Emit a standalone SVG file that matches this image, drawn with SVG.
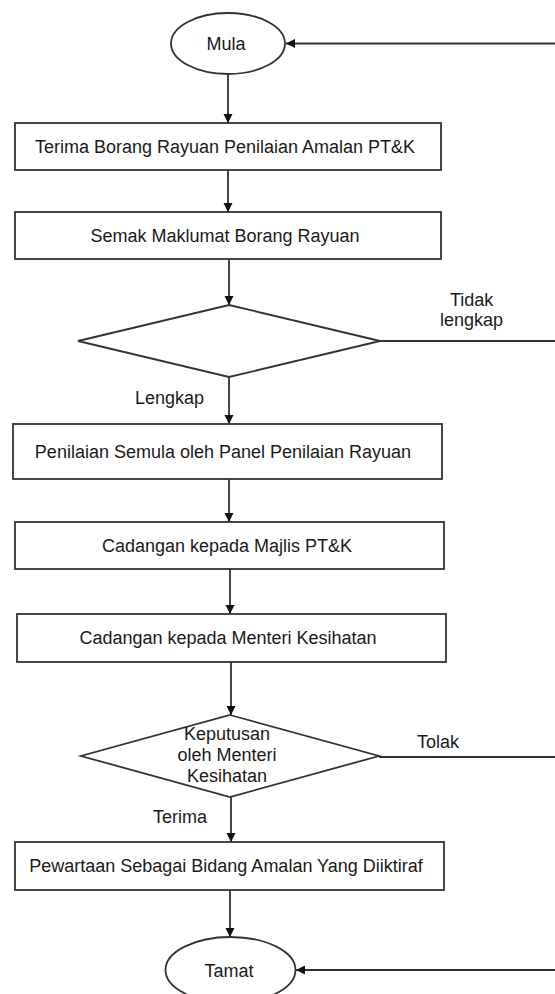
<svg xmlns="http://www.w3.org/2000/svg" width="555" height="994" viewBox="0 0 555 994">
<defs>
<style>
.shape{fill:#fff;stroke:#333;stroke-width:1.8}
.ln{fill:none;stroke:#333;stroke-width:1.8}
.t{font-family:"Liberation Sans",Arial,sans-serif;font-size:18px;fill:#1a1a1a;text-anchor:middle}
.l{font-family:"Liberation Sans",Arial,sans-serif;font-size:18px;fill:#1a1a1a}
</style>
<marker id="ah" markerUnits="userSpaceOnUse" markerWidth="10" markerHeight="10" refX="9" refY="4.5" orient="auto">
<path d="M0,0 L9,4.5 L0,9 z" fill="#111"/>
</marker>
</defs>
<rect width="555" height="994" fill="#fff"/>
<g id="connectors">
<line class="ln" x1="228" y1="74" x2="228" y2="123" marker-end="url(#ah)"/>
<line class="ln" x1="228" y1="170" x2="228" y2="212" marker-end="url(#ah)"/>
<line class="ln" x1="229" y1="259" x2="229" y2="305" marker-end="url(#ah)"/>
<line class="ln" x1="229" y1="377" x2="229" y2="424" marker-end="url(#ah)"/>
<line class="ln" x1="229" y1="479" x2="229" y2="522" marker-end="url(#ah)"/>
<line class="ln" x1="230" y1="569" x2="230" y2="614" marker-end="url(#ah)"/>
<line class="ln" x1="231" y1="662" x2="231" y2="715" marker-end="url(#ah)"/>
<line class="ln" x1="231" y1="797" x2="231" y2="842" marker-end="url(#ah)"/>
<line class="ln" x1="230" y1="890" x2="230" y2="937" marker-end="url(#ah)"/>
<line class="ln" x1="380" y1="341" x2="556" y2="341"/>
<line class="ln" x1="379" y1="757" x2="556" y2="757"/>
<line class="ln" x1="556" y1="43.5" x2="286" y2="43.5" marker-end="url(#ah)"/>
<line class="ln" x1="556" y1="970" x2="296" y2="970" marker-end="url(#ah)"/>
<text class="l" x="450" y="306">Tidak</text>
<text class="l" x="440" y="326">lengkap</text>
<text class="l" x="135" y="404">Lengkap</text>
<text class="l" x="417" y="748">Tolak</text>
<text class="l" x="153" y="823">Terima</text>
</g>
<g id="mula">
<ellipse class="shape" cx="228" cy="43.5" rx="57" ry="30.5"/>
<text class="t" x="226" y="50">Mula</text>
</g>
<g id="terima-borang">
<rect class="shape" x="15" y="123" width="426" height="47"/>
<text class="t" x="225" y="153">Terima Borang Rayuan Penilaian Amalan PT&amp;K</text>
</g>
<g id="semak">
<rect class="shape" x="15" y="212" width="426" height="47"/>
<text class="t" x="225" y="242">Semak Maklumat Borang Rayuan</text>
</g>
<g id="lengkap-decision">
<polygon class="shape" points="229,305 380,341 229,377 78,341"/>
</g>
<g id="penilaian-semula">
<rect class="shape" x="13" y="424" width="429" height="55"/>
<text class="t" x="223" y="458">Penilaian Semula oleh Panel Penilaian Rayuan</text>
</g>
<g id="cadangan-majlis">
<rect class="shape" x="15" y="522" width="429" height="47"/>
<text class="t" x="227" y="552">Cadangan kepada Majlis PT&amp;K</text>
</g>
<g id="cadangan-menteri">
<rect class="shape" x="17" y="614" width="429" height="48"/>
<text class="t" x="228" y="644">Cadangan kepada Menteri Kesihatan</text>
</g>
<g id="keputusan-decision">
<polygon class="shape" points="230,715 379,756 230,797 81,756"/>
<text class="t" x="227" y="740">Keputusan</text>
<text class="t" x="227" y="761">oleh Menteri</text>
<text class="t" x="227" y="782">Kesihatan</text>
</g>
<g id="pewartaan">
<rect class="shape" x="15" y="842" width="429" height="48"/>
<text class="t" x="226" y="872">Pewartaan Sebagai Bidang Amalan Yang Diiktiraf</text>
</g>
<g id="tamat">
<ellipse class="shape" cx="230.5" cy="970" rx="65" ry="33"/>
<text class="t" x="229" y="977">Tamat</text>
</g>
</svg>
